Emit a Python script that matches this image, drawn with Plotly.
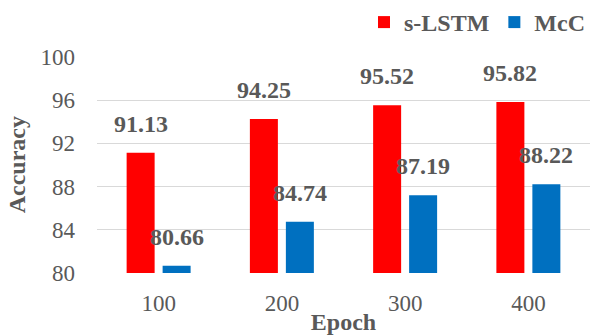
import plotly.graph_objects as go

epochs = ["100", "200", "300", "400"]
s_lstm = [91.13, 94.25, 95.52, 95.82]
mcc = [80.66, 84.74, 87.19, 88.22]
y_ticks = [80, 84, 88, 92, 96, 100]

RED = "#FF0000"
BLUE = "#0070C0"
TEXT = "#595959"
SERIF = "Liberation Serif, Times New Roman, serif"

fig = go.Figure()
fig.add_trace(go.Bar(name="s-LSTM", x=epochs, y=s_lstm, marker_color=RED,
                     marker_line_width=0))
fig.add_trace(go.Bar(name="McC", x=epochs, y=mcc, marker_color=BLUE,
                     marker_line_width=0))

# value labels above each bar (x given as category index)
for vals, shift in ((s_lstm, -18), (mcc, 18)):
    for i, v in enumerate(vals):
        fig.add_annotation(x=i, y=v, xref="x", yref="y", text=f"{v:.2f}",
                           showarrow=False, xshift=shift, yshift=14,
                           yanchor="bottom",
                           font=dict(family=SERIF, size=24, color=TEXT,
                                     weight="bold"))

fig.update_layout(
    width=590, height=335,
    margin=dict(l=97, r=0, t=51, b=61),
    paper_bgcolor="white", plot_bgcolor="white",
    barmode="group", bargap=0.416, bargroupgap=0.222,
    font=dict(family=SERIF, color=TEXT),
    showlegend=True,
    legend=dict(orientation="h", x=1.0, xanchor="right", y=1.0, yanchor="top",
                yref="container", xref="container",
                font=dict(family=SERIF, size=24, color=TEXT, weight="bold"),
                itemwidth=30, tracegroupgap=0, bgcolor="rgba(0,0,0,0)"),
    xaxis=dict(type="category", range=[-0.5, 3.5], showgrid=False,
               showline=False, ticks="",
               tickfont=dict(family=SERIF, size=23, color=TEXT),
               ticklabelstandoff=14,
               title=dict(text="<b>Epoch</b>", standoff=2,
                          font=dict(family=SERIF, size=24, color=TEXT))),
    yaxis=dict(range=[80, 100.05], tickvals=y_ticks, showgrid=True,
               gridcolor="#D9D9D9", gridwidth=1.3, zeroline=False,
               showline=False, ticks="",
               tickfont=dict(family=SERIF, size=23, color=TEXT),
               ticklabelstandoff=21,
               title=dict(text="<b>Accuracy</b>", standoff=8,
                          font=dict(family=SERIF, size=24, color=TEXT))),
)

fig.write_html("out.html")
